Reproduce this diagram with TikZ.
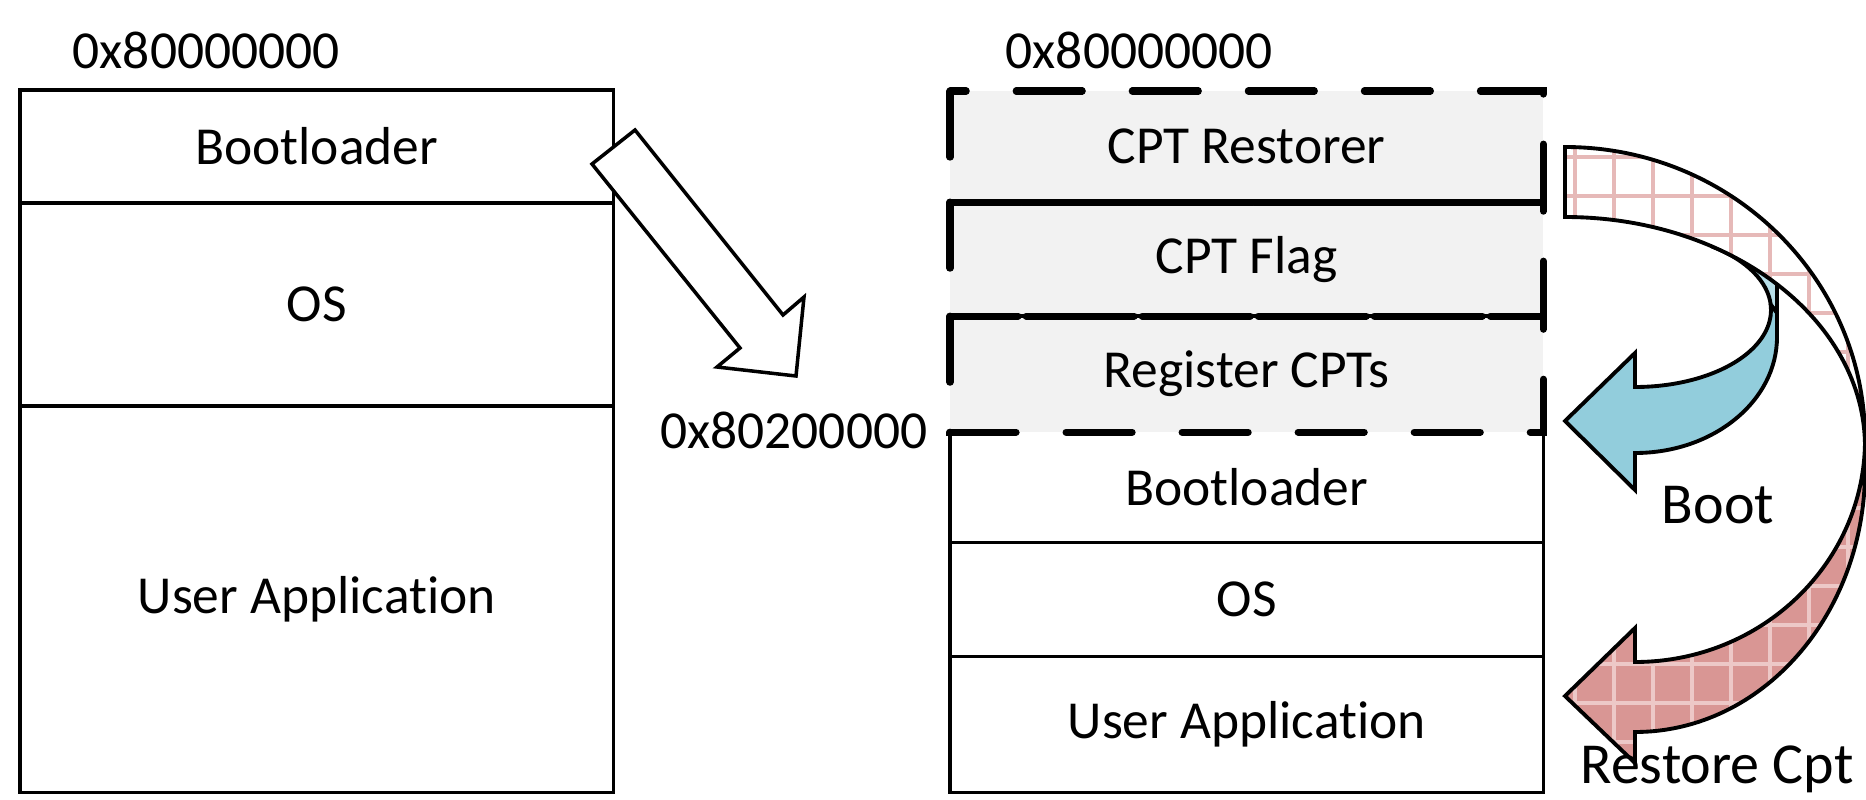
\documentclass[tikz,border=0pt]{standalone}
\usepackage{fontspec}
\setmainfont[Ligatures=NoCommon]{Carlito}
\usetikzlibrary{positioning}
\definecolor{memGrey}{HTML}{F2F2F2}
\definecolor{bootBlue}{HTML}{92CDDC}
\definecolor{bootBlueLight}{HTML}{B7DEE8}
\definecolor{cptRed}{HTML}{D99694}
\definecolor{cptGrid}{HTML}{E6B9B8}
\definecolor{cptGridLight}{HTML}{EDC8C7}
\tikzset{
  membox/.style={
    rectangle, draw=black, line width=1pt,
    outer sep=0pt, inner sep=0pt,
    minimum width=5.93cm,
    font=\fontsize{15.2}{18}\selectfont
  },
  cptbox/.style={
    membox, draw=none, fill=memGrey
  },
  memline/.style={draw=black, line width=1pt},
  cptdash/.style={
    draw=black, line width=2pt, line cap=round,
    dash pattern=on 18.8pt off 14.2pt
  },
  addr/.style={inner sep=0pt, font=\fontsize{15.2}{18}\selectfont},
  bigarrow/.style={draw=black, line width=1.1pt},
  gridline/.style={line width=1.1pt},
  arrowlabel/.style={inner sep=0pt, font=\fontsize{16.5}{20}\selectfont}
}
% grid pattern used inside the restore arrow
\newcommand{\cptgrid}[1]{%
  \foreach \gx in {1536,1575,...,1866} \draw[gridline, #1] (\gx,100) -- (\gx,800);
  \foreach \gy in {118,157,...,800} \draw[gridline, #1] (1500,\gy) -- (1866,\gy);
}
% outlines of the two halves of the restore arrow
\newcommand{\cptbackpath}{(1565,147) arc[start angle=-90, end angle=0, x radius=300, y radius=293]
  -- (1865,447) arc[start angle=0, end angle=-90, x radius=300, y radius=230] -- cycle}
\newcommand{\cptfrontpath}{(1865,440) -- (1865,470)
  arc[start angle=0, end angle=90, x radius=230, y radius=262]
  -- (1635,763) -- (1565,696) -- (1635,628) -- (1635,662)
  arc[start angle=90, end angle=0, x radius=230, y radius=222] -- cycle}

\begin{document}
\begin{tikzpicture}[x=0.01cm, y=-0.01cm]
  \useasboundingbox (0,0) rectangle (1866,800);

  % Plain memory layout
  \node[membox, minimum height=1.13cm, anchor=north west] (lboot) at (20,90) {Bootloader};
  \node[membox, minimum height=2.03cm, below=0pt of lboot] (los) {OS};
  \node[membox, minimum height=3.86cm, below=0pt of los] (lapp) {User Application};
  \node[addr, anchor=base west] (laddr) at (72,68) {0x80000000};

  % Layout with the checkpoint restorer in front
  \node[cptbox, minimum height=1.11cm, anchor=north west] (rrest) at (950,91) {CPT Restorer};
  \node[cptbox, minimum height=1.14cm, below=0pt of rrest] (rflag) {CPT Flag};
  \node[cptbox, minimum height=1.16cm, below=0pt of rflag] (rreg) {Register CPTs};
  \node[membox, draw=none, minimum height=1.10cm, below=0pt of rreg] (rboot) {Bootloader};
  \node[membox, draw=none, minimum height=1.14cm, below=0pt of rboot] (ros) {OS};
  \node[membox, draw=none, minimum height=1.36cm, below=0pt of ros] (rapp) {User Application};
  \draw[memline] (rboot.north west) -- (rapp.south west) -- (rapp.south east) -- (rboot.north east);
  \draw[memline] (ros.north west) -- (ros.north east);
  \draw[memline] (rapp.north west) -- (rapp.north east);
  \draw[memline] (rflag.north west) -- (rflag.north east);
  \draw[memline] (rreg.north west) -- (rreg.north east);
  \foreach \b in {rrest, rflag, rreg}
    \draw[cptdash] (\b.north west) rectangle (\b.south east);
  \node[addr, anchor=base west] (raddr) at (1005,68) {0x80000000};
  \node[addr, anchor=base east] (baddr) at (928,448) {0x80200000};

  % Hollow arrow between the two layouts
  \draw[bigarrow, line width=1pt, fill=white] (592,164) -- (635,130) -- (783,315) -- (804,297)
    -- (796,376) -- (717,367) -- (740,348) -- cycle;

  % Boot arrow
  \draw[bigarrow, fill=bootBlueLight] (1777,313) -- (1770.7,304.6)
    arc[start angle=-4, end angle=-55, x radius=136, y radius=77]
    -- (1713,240) -- (1777,260) -- cycle;
  \draw[bigarrow, fill=bootBlue] (1770.7,304.6) -- (1777,313) -- (1777,337)
    arc[start angle=0, end angle=90, x radius=142, y radius=116]
    -- (1635,490) -- (1565,421) -- (1635,353) -- (1635,387)
    arc[start angle=90, end angle=-4, x radius=136, y radius=77] -- cycle;

  % Restore arrow, back half
  \begin{scope}
    \clip \cptbackpath;
    \fill[white] (1500,100) rectangle (1866,800);
    \cptgrid{cptGrid}
  \end{scope}
  \draw[bigarrow] \cptbackpath;

  % Restore arrow, front half
  \begin{scope}
    \clip \cptfrontpath;
    \fill[cptRed] (1500,100) rectangle (1866,800);
    \cptgrid{cptGridLight}
  \end{scope}
  \draw[bigarrow] \cptfrontpath;

  \node[arrowlabel, anchor=base] (bootlbl) at (1718,523) {Boot};
  \node[arrowlabel, anchor=base] (restlbl) at (1717,783) {Restore Cpt};
\end{tikzpicture}
\end{document}
